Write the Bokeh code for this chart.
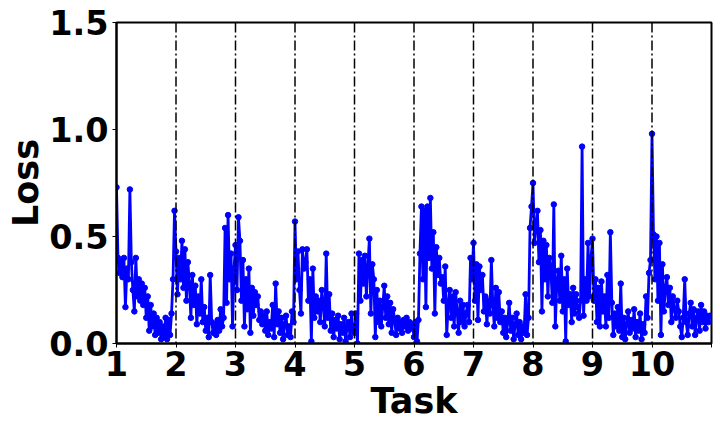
import numpy as np
from bokeh.plotting import figure
from bokeh.models import ColumnDataSource, FixedTicker, Span
from bokeh.embed import file_html
from bokeh.resources import INLINE

# ---- data ----
tasks = [1, 2, 3, 4, 5, 6, 7, 8, 9, 10]
tick_labels = ["1", "2", "3", "4", "5", "6", "7", "8", "9", "10"]
boundaries = [2, 3, 4, 5, 6, 7, 8, 9, 10]

task1 = [0.73, 0.40, 0.33, 0.38, 0.31, 0.40, 0.17, 0.35, 0.30, 0.72,
         0.38, 0.25, 0.15, 0.40, 0.22, 0.30, 0.20, 0.28, 0.18, 0.26,
         0.12, 0.22, 0.06, 0.18, 0.08, 0.14, 0.04, 0.12, 0.05, 0.10,
         0.02, 0.08, 0.03, 0.12, 0.02, 0.11, 0.04, 0.14, 0.30, 0.62]
task2 = [0.43, 0.23, 0.40, 0.30, 0.48, 0.26, 0.44, 0.20, 0.38, 0.28,
         0.12, 0.32, 0.18, 0.27, 0.09, 0.22, 0.14, 0.30, 0.10, 0.17,
         0.06, 0.12, 0.03, 0.32, 0.10, 0.05, 0.09, 0.04, 0.11, 0.06,
         0.16, 0.08, 0.12, 0.54, 0.19, 0.60, 0.30, 0.42, 0.08, 0.35]
task3 = [0.46, 0.25, 0.59, 0.48, 0.20, 0.39, 0.08, 0.30, 0.16, 0.35,
         0.05, 0.26, 0.13, 0.24, 0.18, 0.22, 0.11, 0.15, 0.09, 0.13,
         0.06, 0.15, 0.04, 0.10, 0.07, 0.18, 0.03, 0.28, 0.09, 0.15,
         0.05, 0.12, 0.02, 0.09, 0.13, 0.04, 0.08, 0.03, 0.15, 0.10]
task4 = [0.57, 0.30, 0.43, 0.25, 0.14, 0.44, 0.35, 0.38, 0.44, 0.20,
         0.30, 0.01, 0.35, 0.12, 0.22, 0.15, 0.20, 0.10, 0.25, 0.18,
         0.08, 0.42, 0.12, 0.23, 0.06, 0.14, 0.03, 0.11, 0.07, 0.13,
         0.02, 0.09, 0.05, 0.12, 0.01, 0.08, 0.10, 0.03, 0.14, 0.06]
task5 = [0.05, 0.14, 0.00, 0.42, 0.20, 0.39, 0.28, 0.41, 0.22, 0.36,
         0.49, 0.14, 0.37, 0.30, 0.03, 0.25, 0.10, 0.20, 0.08, 0.17,
         0.27, 0.12, 0.22, 0.09, 0.19, 0.05, 0.16, 0.11, 0.04, 0.12,
         0.07, 0.10, 0.05, 0.11, 0.08, 0.12, 0.06, 0.10, 0.07, 0.09]
task6 = [0.03, 0.10, 0.01, 0.11, 0.42, 0.64, 0.30, 0.62, 0.17, 0.64,
         0.40, 0.68, 0.35, 0.52, 0.14, 0.45, 0.32, 0.40, 0.28, 0.31,
         0.20, 0.36, 0.04, 0.18, 0.25, 0.12, 0.22, 0.08, 0.24, 0.15,
         0.05, 0.20, 0.10, 0.18, 0.08, 0.14, 0.18, 0.10, 0.40, 0.30]
task7 = [0.47, 0.20, 0.37, 0.11, 0.36, 0.25, 0.32, 0.15, 0.22, 0.09,
         0.20, 0.14, 0.39, 0.18, 0.08, 0.26, 0.12, 0.24, 0.10, 0.15,
         0.05, 0.12, 0.03, 0.10, 0.19, 0.06, 0.12, 0.02, 0.09, 0.14,
         0.04, 0.10, 0.02, 0.08, 0.05, 0.23, 0.04, 0.12, 0.54, 0.64]
task8 = [0.75, 0.47, 0.55, 0.62, 0.38, 0.53, 0.15, 0.48, 0.30, 0.46,
         0.22, 0.40, 0.35, 0.19, 0.65, 0.08, 0.28, 0.34, 0.20, 0.41,
         0.15, 0.30, 0.01, 0.35, 0.18, 0.23, 0.10, 0.26, 0.14, 0.23,
         0.17, 0.12, 0.20, 0.92, 0.13, 0.30, 0.20, 0.47, 0.22, 0.40]
task9 = [0.49, 0.20, 0.30, 0.10, 0.26, 0.08, 0.29, 0.15, 0.22, 0.08,
         0.32, 0.12, 0.52, 0.19, 0.04, 0.14, 0.08, 0.17, 0.06, 0.28,
         0.03, 0.12, 0.02, 0.09, 0.15, 0.05, 0.11, 0.07, 0.16, 0.03,
         0.10, 0.06, 0.14, 0.02, 0.09, 0.05, 0.22, 0.12, 0.33, 0.39]
task10 = [0.98, 0.51, 0.30, 0.50, 0.20, 0.47, 0.04, 0.37, 0.15, 0.26,
          0.31, 0.18, 0.26, 0.10, 0.22, 0.16, 0.12, 0.20, 0.15, 0.08,
          0.03, 0.12, 0.30, 0.10, 0.04, 0.14, 0.19, 0.08, 0.16, 0.04,
          0.12, 0.15, 0.06, 0.18, 0.10, 0.15, 0.07, 0.13, 0.10, 0.13]

series = [task1, task2, task3, task4, task5, task6, task7, task8, task9, task10]

xs, ys = [], []
for t, vals in zip(tasks, series):
    n = len(vals)
    xs.extend(t + i / n for i in range(n))
    ys.extend(vals)

src = ColumnDataSource(dict(x=xs, y=ys))

p = figure(frame_width=595, frame_height=321, output_backend="svg",
           toolbar_location=None,
           x_range=(1, 11), y_range=(0, 1.5),
           min_border_left=116, min_border_right=2, min_border_top=22,
           min_border_bottom=82)

p.grid.visible = False
p.outline_line_color = "black"
p.outline_line_width = 2
p.background_fill_color = "white"
p.border_fill_color = "white"

for b in boundaries:
    p.add_layout(Span(location=b, dimension="height", line_color="black",
                      line_width=1.5, line_dash="10 3 2 3"))

p.line("x", "y", source=src, line_color="#0000ff", line_width=2.8)
p.scatter("x", "y", source=src, marker="circle", size=5.5,
          fill_color="#0000ff", line_color="#0000ff")

p.xaxis.ticker = FixedTicker(ticks=tasks + [11])
p.xaxis.major_label_overrides = {**{t: l for t, l in zip(tasks, tick_labels)}, 11: ""}
p.yaxis.ticker = FixedTicker(ticks=[0.0, 0.5, 1.0, 1.5])
p.yaxis.major_label_overrides = {0.0: "0.0", 0.5: "0.5", 1.0: "1.0", 1.5: "1.5"}

for ax in (p.xaxis[0], p.yaxis[0]):
    ax.axis_line_color = "black"
    ax.axis_line_width = 2
    ax.major_tick_in = 0
    ax.major_tick_out = 4
    ax.major_tick_line_color = "black"
    ax.major_tick_line_width = 1
    ax.minor_tick_line_color = None
    ax.major_label_text_font = "DejaVu Sans"
    ax.major_label_text_font_style = "bold"
    ax.major_label_text_font_size = "33.5px"
    ax.major_label_text_color = "black"
    ax.axis_label_text_font = "DejaVu Sans"
    ax.axis_label_text_font_style = "bold"
    ax.axis_label_text_font_size = "35px"
    ax.axis_label_text_color = "black"

p.xaxis.axis_label = "Task"
p.yaxis.axis_label = "Loss"
p.xaxis.major_label_standoff = 3
p.yaxis.major_label_standoff = 4
p.xaxis.axis_label_standoff = 2
p.yaxis.axis_label_standoff = 0

open("out.html", "w").write(file_html(p, INLINE))
